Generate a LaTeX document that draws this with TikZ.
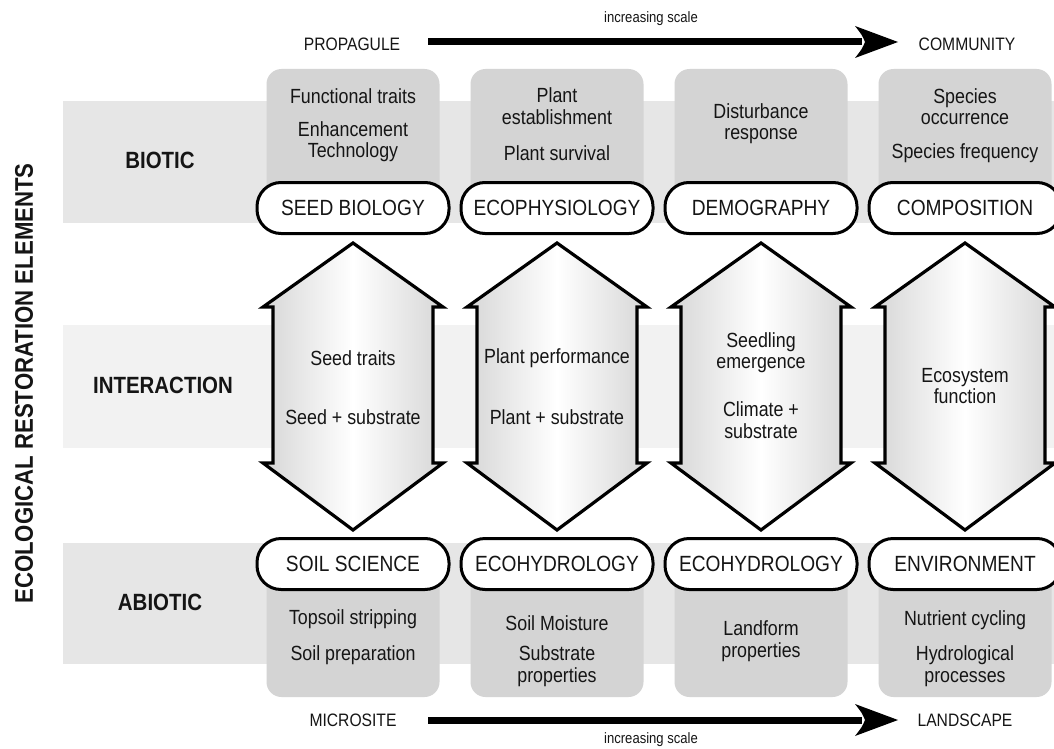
\documentclass[tikz,border=0pt]{standalone}
\usepackage{fontspec}
\setmainfont{Liberation Sans}[FakeStretch=0.87]
\definecolor{bandgray}{HTML}{E6E6E6}
\definecolor{intergray}{HTML}{F2F2F2}
\definecolor{colgray}{HTML}{D4D4D4}
\definecolor{txt}{HTML}{151515}
\begin{document}
\begin{tikzpicture}[x=1pt,y=-1pt,
  band/.style={fill=bandgray,draw=none},
  interband/.style={fill=intergray,draw=none},
  colbox/.style={fill=colgray,draw=none,rounded corners=15pt},
  pill/.style={draw=black,line width=3pt,fill=white,rounded corners=24pt,
    minimum width=192pt,minimum height=51pt,inner sep=0pt,text=txt,
    font=\fontsize{22}{24}\selectfont},
  body/.style={align=center,inner sep=0pt,text=txt,
    font=\fontsize{20.5}{21.5}\selectfont},
  rowlabel/.style={inner sep=0pt,text=txt,font=\fontsize{23.5}{25}\selectfont\bfseries},
  scalelabel/.style={inner sep=0pt,text=txt,font=\fontsize{18}{20}\selectfont},
  scalenote/.style={inner sep=0pt,text=txt,font=\fontsize{15}{17}\selectfont},
  dblarrow/.style={draw=black,line width=3.2pt,line join=miter,
    left color=gray!32,right color=gray!32,middle color=white},
  scaleline/.style={line width=7pt,draw=black},
  scalehead/.style={fill=black,draw=none}]
\useasboundingbox (0,0) rectangle (1054,749);
\fill[white] (0,0) rectangle (1054,749);

% row bands
\fill[band] (63,101) rectangle (1054,223);
\fill[interband] (63,325) rectangle (1054,448);
\fill[band] (63,543) rectangle (1054,664);

% column boxes
\foreach \cx in {353,557,761,965}{
  \fill[colbox] (\cx-86.5,69) rectangle (\cx+86.5,225);
  \fill[colbox] (\cx-86.5,545) rectangle (\cx+86.5,697);
}

% double arrows
\foreach \cx in {353,557,761,965}{
  \draw[dblarrow] (\cx,243) -- (\cx+90,307) -- (\cx+80,307) -- (\cx+80,463)
    -- (\cx+90,463) -- (\cx,530) -- (\cx-90,463) -- (\cx-80,463)
    -- (\cx-80,307) -- (\cx-90,307) -- cycle;
}

% pills
\node[pill] (sb) at (353,208) {SEED BIOLOGY};
\node[pill] (ep) at (557,208) {ECOPHYSIOLOGY};
\node[pill] (dm) at (761,208) {DEMOGRAPHY};
\node[pill] (cp) at (965,208) {COMPOSITION};
\node[pill] (ss) at (353,564) {SOIL SCIENCE};
\node[pill] (eh1) at (557,564) {ECOHYDROLOGY};
\node[pill] (eh2) at (761,564) {ECOHYDROLOGY};
\node[pill] (en) at (965,564) {ENVIRONMENT};

% top texts
\node[body] (t1a) at (353,96) {Functional traits};
\node[body] (t1b) at (353,141.5) {Enhancement\\Technology};
\node[body] (t2a) at (557,106) {Plant\\establishment};
\node[body] (t2b) at (557,153) {Plant survival};
\node[body] (t3a) at (761,123.5) {Disturbance\\response};
\node[body] (t4a) at (965,106.5) {Species\\occurrence};
\node[body] (t4b) at (965,153) {Species frequency};

% interaction texts
\node[body] (i1a) at (353,358) {Seed traits};
\node[body] (i1b) at (353,417) {Seed + substrate};
\node[body] (i2a) at (557,358) {Plant performance};
\node[body] (i2b) at (557,417) {Plant + substrate};
\node[body] (i3a) at (761,352.5) {Seedling\\emergence};
\node[body] (i3b) at (761,420) {Climate +\\substrate};
\node[body] (i4a) at (965,386) {Ecosystem\\function};

% bottom texts
\node[body] (b1a) at (353,619) {Topsoil stripping};
\node[body] (b1b) at (353,655) {Soil preparation};
\node[body] (b2a) at (557,623) {Soil Moisture};
\node[body] (b2b) at (557,666) {Substrate\\properties};
\node[body] (b3a) at (761,641) {Landform\\properties};
\node[body] (b4a) at (965,620) {Nutrient cycling};
\node[body] (b4b) at (965,666) {Hydrological\\processes};

% row labels
\node[rowlabel] (biotic) at (160,160) {BIOTIC};
\node[rowlabel] (inter) at (163,385) {INTERACTION};
\node[rowlabel] (abiotic) at (160,602) {ABIOTIC};
\node[rowlabel,rotate=90,font=\fontsize{25.5}{27}\selectfont\bfseries] (ere) at (24,383.5) {ECOLOGICAL RESTORATION ELEMENTS};

% scale arrows
\node[scalelabel] (prop) at (352,44) {PROPAGULE};
\node[scalelabel] (comm) at (967,44) {COMMUNITY};
\node[scalenote] (inc1) at (651,19) {increasing scale};
\node[scalelabel] (micro) at (353,720) {MICROSITE};
\node[scalelabel] (land) at (965,720) {LANDSCAPE};
\node[scalenote] (inc2) at (651,740) {increasing scale};

\coordinate (ts) at (428,42);
\coordinate (te) at (862,42);
\coordinate (bs) at (428,720);
\coordinate (be) at (862,720);
\draw[scaleline] (ts) -- (te);
\draw[scaleline] (bs) -- (be);
\fill[scalehead] (898,42) -- (855,26) .. controls (862,35) .. (865,42)
  .. controls (862,49) .. (855,58) -- cycle;
\fill[scalehead] (898,720) -- (855,704) .. controls (862,713) .. (865,720)
  .. controls (862,727) .. (855,736) -- cycle;
\end{tikzpicture}
\end{document}
